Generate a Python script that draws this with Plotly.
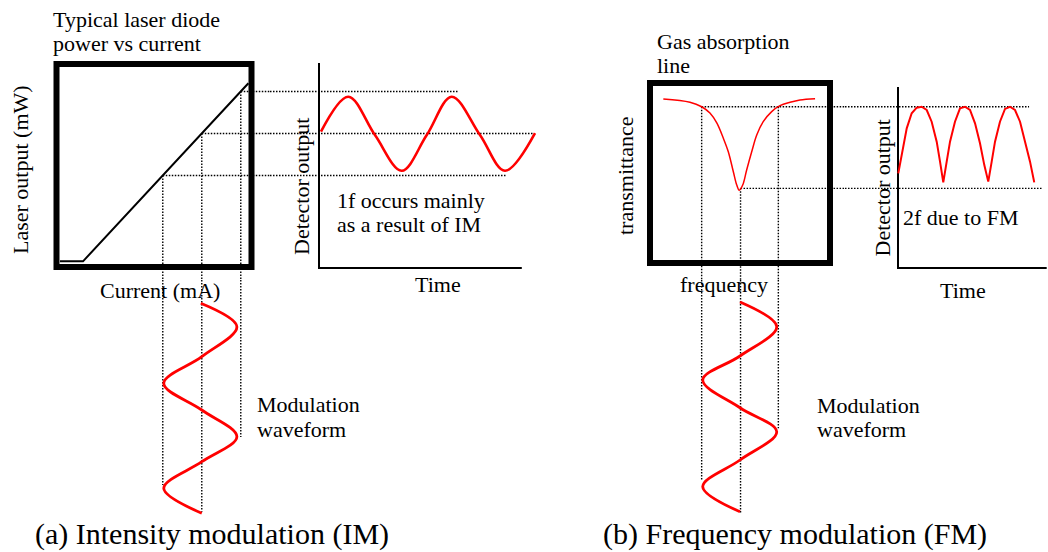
import numpy as np
import plotly.graph_objects as go

# =====================  DATA  =====================
# ---- (a) Intensity modulation ----
pi_current = [1.8, 13.6, 98.4]            # laser current (mA)
pi_power = [2.8, 2.8, 90.5]               # laser output (mW)
bias_current = [54.5, 74.5, 94.5]         # modulation trough / centre / peak current (mA)

det_im_time = [0.019, 0.282, 0.538, 0.795, 1.036, 1.276, 1.548, 1.788, 2.077]   # cycles
det_im_output = [66.7, 83.9, 65.0, 47.4, 65.0, 83.9, 65.0, 47.4, 65.9]           # mW
det_im_guide_end = [1.805, 2.058, 1.346]  # where horizontal guides stop (per bias point)

mod_im_time = [0.012, 0.229, 0.506, 0.753, 1.0, 1.247, 1.479, 1.725, 1.956]      # cycles
mod_im_current = [74.0, 92.5, 74.5, 55.0, 74.5, 92.5, 74.5, 55.0, 74.5]         # mA
mod_im_guide_end = [1.694, 1.941, 1.25]   # where vertical guides stop (per bias point)

im_box_current = [0, 100]
im_box_power = [0, 100]
det_im_axis_output = [100.5, -0.5]        # detector axis top / baseline
det_im_axis_time = [0, 1.95]

# ---- (b) Frequency modulation ----
abs_freq = [-42.6, -27.8, -21.3, -16.7, -12.9, -9.3, -6.5, -3.7, -1.8, -0.4,
            1.5, 3.7, 6.5, 9.3, 12.9, 17.6, 22.2, 27.8, 33.3, 41.7]
abs_trans = [0.911, 0.893, 0.868, 0.833, 0.778, 0.694, 0.618, 0.507, 0.433, 0.404,
             0.433, 0.517, 0.618, 0.711, 0.785, 0.841, 0.874, 0.893, 0.906, 0.913]
bias_freq = [-21.3, 0.3, 21.3]            # modulation trough / centre / peak frequency

det_fm_time = [0.003, 0.041, 0.097, 0.152, 0.208, 0.263, 0.319, 0.374, 0.43, 0.467, 0.503,
               0.541, 0.578, 0.633, 0.689, 0.744, 0.8, 0.856, 0.911, 0.959, 1.003,
               1.041, 1.078, 1.133, 1.189, 1.244, 1.3, 1.356, 1.411, 1.467, 1.514]
det_fm_output = [0.498, 0.600, 0.748, 0.832, 0.863, 0.868, 0.850, 0.785, 0.674, 0.563, 0.448,
                 0.563, 0.674, 0.785, 0.859, 0.868, 0.850, 0.776, 0.665, 0.544, 0.452,
                 0.563, 0.674, 0.785, 0.856, 0.868, 0.850, 0.785, 0.674, 0.563, 0.448]
det_fm_guide_end = [1.456, 1.611]         # top guide, bottom guide

mod_fm_time = [0.0, 0.229, 0.5, 0.722, 0.979, 1.201, 1.463, 1.71, 1.942]
mod_fm_freq = [0.0, 20.4, 0.0, -20.7, 0.0, 20.4, 0.0, -20.7, 0.0]
mod_fm_guide_end = [1.648, 1.957, 1.17]

fm_box_freq = [-50, 50]
fm_box_trans = [0, 1]
det_fm_axis_output = [0.978, -0.028]
det_fm_axis_time = [0, 1.652]

# =====================  LAYOUT / SCALES  =====================
W, H = 1048, 552
# axis -> (value0, pixel0, value1, pixel1, domain pixel lo, domain pixel hi)
SCALES = {
    "xaxis":  (im_box_current[0], 56.5, im_box_current[1], 251.5, 30, 270),
    "yaxis":  (im_box_power[0], 267, im_box_power[1], 64, 0, 280),
    "xaxis2": (0, 319, 1, 423, 270, 600),
    "yaxis3": (0, 302, 1, 410, 280, 552),
    "xaxis4": (fm_box_freq[0], 650, fm_box_freq[1], 830, 600, 845),
    "yaxis4": (fm_box_trans[0], 263, fm_box_trans[1], 83, 0, 280),
    "xaxis5": (0, 898, 1, 988, 845, 1048),
    "yaxis6": (0, 302, 1, 410, 280, 552),
}


def px2val(name, px):
    v0, p0, v1, p1, _, _ = SCALES[name]
    return v0 + (px - p0) * (v1 - v0) / (p1 - p0)


axes_layout = {}
for name, (v0, p0, v1, p1, lo, hi) in SCALES.items():
    common = dict(visible=False, showgrid=False, zeroline=False, fixedrange=True)
    if name.startswith("x"):
        axes_layout[name] = dict(domain=[lo / W, hi / W],
                                 range=[px2val(name, lo), px2val(name, hi)], **common)
    else:
        axes_layout[name] = dict(domain=[1 - hi / H, 1 - lo / H],
                                 range=[px2val(name, hi), px2val(name, lo)], **common)
axes_layout["xaxis"]["anchor"] = "y"
axes_layout["xaxis2"]["anchor"] = "y"
axes_layout["yaxis"]["anchor"] = "x"
axes_layout["yaxis3"]["anchor"] = "x"
axes_layout["xaxis4"]["anchor"] = "y4"
axes_layout["xaxis5"]["anchor"] = "y4"
axes_layout["yaxis4"]["anchor"] = "x4"
axes_layout["yaxis6"]["anchor"] = "x4"

RED = "#ff0000"
DOT = dict(color="black", width=1.4, dash="1.5px,1.5px")
FONT = "Liberation Serif"

fig = go.Figure()


def add(xs, ys, xa, ya, line, shape="linear"):
    ln = dict(line)
    ln["shape"] = shape
    fig.add_trace(go.Scatter(x=list(xs), y=list(ys), xaxis=xa, yaxis=ya, mode="lines",
                             line=ln, hoverinfo="skip", showlegend=False))


# ---------- (a) guide lines ----------
bias_power = np.interp(bias_current, pi_current, pi_power)
x_split_a = px2val("xaxis", 270)
y_split_a = px2val("yaxis", 280)
t_split_a = px2val("xaxis2", 270)
tm_split_a = px2val("yaxis3", 280)
for cur, pw, tend, mend in zip(bias_current, bias_power, det_im_guide_end, mod_im_guide_end):
    add([cur, x_split_a], [pw, pw], "x", "y", DOT)
    add([t_split_a, tend], [pw, pw], "x2", "y", DOT)
    add([cur, cur], [pw, y_split_a], "x", "y", DOT)
    add([cur, cur], [tm_split_a, mend], "x", "y3", DOT)

# ---------- (a) curves ----------
add(pi_current, pi_power, "x", "y", dict(color="black", width=2))
add([det_im_axis_time[0], det_im_axis_time[0], det_im_axis_time[1]],
    [det_im_axis_output[0], det_im_axis_output[1], det_im_axis_output[1]],
    "x2", "y", dict(color="black", width=2))
add(det_im_time, det_im_output, "x2", "y", dict(color=RED, width=2.6), "spline")
add(mod_im_current, mod_im_time, "x", "y3", dict(color=RED, width=2.8), "spline")

# ---------- (b) guide lines ----------
bias_trans = np.interp(bias_freq, abs_freq, abs_trans)
x_split_b = px2val("xaxis4", 845)
y_split_b = px2val("yaxis4", 280)
t_split_b = px2val("xaxis5", 845)
tm_split_b = px2val("yaxis6", 280)
for (f, tr), tend in zip([(bias_freq[0], bias_trans[0]), (bias_freq[1], bias_trans[1])],
                         det_fm_guide_end):
    add([f, x_split_b], [tr, tr], "x4", "y4", DOT)
    add([t_split_b, tend], [tr, tr], "x5", "y4", DOT)
for f, tr, mend in zip(bias_freq, bias_trans, mod_fm_guide_end):
    add([f, f], [tr, y_split_b], "x4", "y4", DOT)
    add([f, f], [tm_split_b, mend], "x4", "y6", DOT)

# ---------- (b) curves ----------
add(abs_freq, abs_trans, "x4", "y4", dict(color=RED, width=1.5), "spline")
add([det_fm_axis_time[0], det_fm_axis_time[0], det_fm_axis_time[1]],
    [det_fm_axis_output[0], det_fm_axis_output[1], det_fm_axis_output[1]],
    "x5", "y4", dict(color="black", width=2))
add(det_fm_time, det_fm_output, "x5", "y4", dict(color=RED, width=2))
add(mod_fm_freq, mod_fm_time, "x4", "y6", dict(color=RED, width=2.8), "spline")

# ---------- boxes ----------
fig.add_shape(type="rect", xref="x", yref="y",
              x0=im_box_current[0], x1=im_box_current[1], y0=im_box_power[0], y1=im_box_power[1],
              line=dict(color="black", width=6), layer="above")
fig.add_shape(type="rect", xref="x4", yref="y4",
              x0=fm_box_freq[0], x1=fm_box_freq[1], y0=fm_box_trans[0], y1=fm_box_trans[1],
              line=dict(color="black", width=6), layer="above")

# ---------- text ----------
ann = []


def label(text, px, py, size=22, xanchor="left", angle=0):
    ann.append(dict(text=text, x=px / W, y=1 - py / H, xref="paper", yref="paper",
                    xanchor=xanchor, yanchor="middle", showarrow=False, textangle=angle,
                    font=dict(family=FONT, size=size, color="black")))


label("Typical laser diode", 51, 19)
label("power vs current", 51, 43)
label("Laser output (mW)", 20, 170, xanchor="center", angle=-90)
label("Current (mA)", 160, 290, xanchor="center")
label("Detector output", 301, 187, xanchor="center", angle=-90)
label("Time", 437.5, 284, xanchor="center")
label("1f occurs mainly", 335, 201)
label("as a result of IM", 335, 225)
label("Modulation", 255, 404)
label("waveform", 255, 429)
label("(a) Intensity modulation (IM)", 33, 534, size=30)

label("Gas absorption", 655, 41)
label("line", 655, 66)
label("transmittance", 626, 176, xanchor="center", angle=-90)
label("frequency", 724, 284, xanchor="center")
label("Detector output", 882.5, 188, xanchor="center", angle=-90)
label("2f due to FM", 901, 217)
label("Time", 962.5, 290, xanchor="center")
label("Modulation", 815, 405)
label("waveform", 815, 429)
label("(b) Frequency modulation (FM)", 601, 534, size=30)

fig.update_layout(width=W, height=H, autosize=False,
                  margin=dict(l=0, r=0, t=0, b=0, pad=0),
                  paper_bgcolor="white", plot_bgcolor="rgba(0,0,0,0)",
                  showlegend=False, annotations=ann, **axes_layout)

fig.write_html("out.html", config={"displayModeBar": False})
